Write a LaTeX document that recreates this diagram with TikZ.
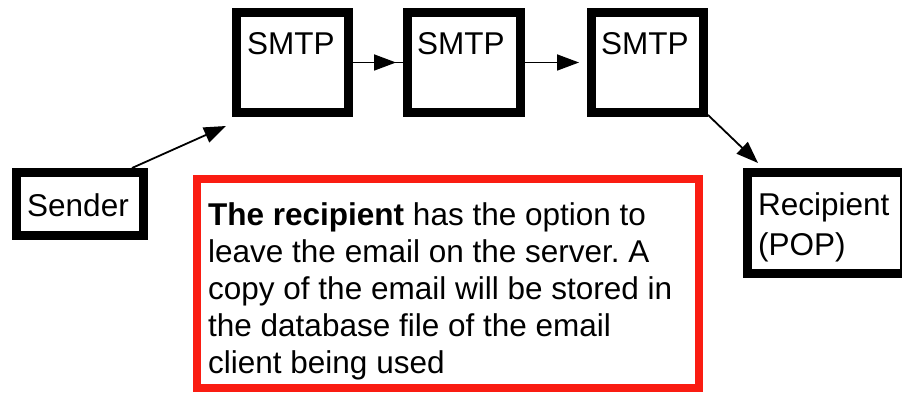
\documentclass[tikz,border=0pt]{standalone}
\usepackage{fontspec}
\setmainfont{Liberation Sans}
\usetikzlibrary{arrows.meta}
\definecolor{boxred}{RGB}{250,28,18}
\frenchspacing
\tikzset{
  thickbox/.style={draw=black, line width=9pt, inner sep=0pt, fill=white},
  redbox/.style={draw=boxred, line width=8pt, inner sep=0pt},
  lbl/.style={inner sep=0pt, anchor=base west, font=\fontsize{31.5}{37}\selectfont},
  arr/.style={line width=1.8pt, -{Triangle[length=22pt,width=16pt]}},
  plain/.style={line width=1.8pt}
}
\begin{document}
\begin{tikzpicture}[x=1pt,y=-1pt]
\useasboundingbox (0,0) rectangle (902,398);
\clip (0,0) rectangle (902,398);
% boxes
\node[thickbox, minimum width=112pt, minimum height=100pt] (s1) at (292.5,62.5) {};
\node[thickbox, minimum width=113pt, minimum height=100pt] (s2) at (464,62.5) {};
\node[thickbox, minimum width=112pt, minimum height=100pt] (s3) at (647.5,62.5) {};
\node[thickbox, minimum width=127pt, minimum height=63pt] (snd) at (80,204) {};
\node[thickbox, minimum width=157pt, minimum height=101pt] (rcp) at (826,223) {};
\node[redbox, minimum width=502pt, minimum height=209pt] (note) at (448,283.5) {};
% texts (multi-line nodes: base = baseline of last line)
\node[lbl] (t1) at (247,55) {SMTP};
\node[lbl] (t2) at (417,55) {SMTP};
\node[lbl] (t3) at (601,55) {SMTP};
\node[lbl] (tsnd) at (27,217) {Sender};
\node[lbl, align=left, font=\fontsize{31.5}{40}\selectfont] (trcp) at (758,255) {Recipient\\(POP)};
\node[lbl, align=left] (tnote) at (208,373) {\textbf{The recipient} has the option to\\leave the email on the server. A\\copy of the email will be stored in\\the database file of the email\\client being used};
% connectors
\coordinate (a0) at ([xshift=-16pt]snd.north east);
\coordinate (a1) at ([shift={(-6pt,-9pt)}]s1.south west);
\draw[arr] (a0) -- (a1);
\draw[plain] (s1.east) -- (s2.west);
\draw[arr] (s1.east) -- ([xshift=-7pt]s2.west);
\draw[arr] (s2.east) -- ([xshift=-8pt]s3.west);
\coordinate (b0) at ([yshift=2pt]s3.south east);
\coordinate (b1) at ([shift={(15pt,5pt)}]rcp.north west);
\draw[arr] (b0) -- (b1);
\end{tikzpicture}
\end{document}
